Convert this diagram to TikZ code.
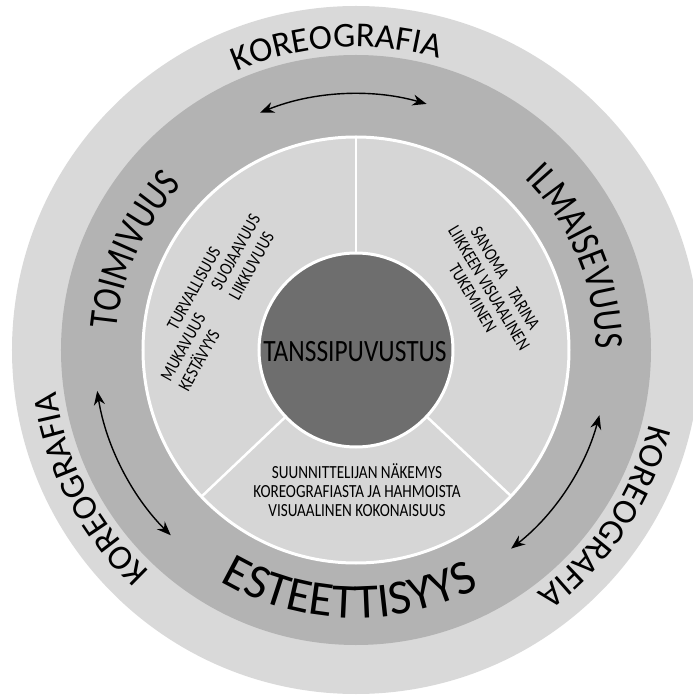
\documentclass[tikz,border=0pt]{standalone}
\usepackage{fontspec}
\setmainfont{Carlito}
\newfontfamily\narrowfont{Carlito}[FakeStretch=0.82]
\usetikzlibrary{decorations.text,arrows.meta}
\definecolor{outerring}{RGB}{217,217,217}
\definecolor{middlering}{RGB}{179,179,179}
\definecolor{innerring}{RGB}{214,214,214}
\definecolor{corecircle}{RGB}{110,110,110}
\newcommand{\korfont}{\fontsize{35}{35}\selectfont}
\newcommand{\ringfont}{\narrowfont\fontsize{41}{41}\selectfont}
\newcommand{\estfont}{\fontsize{49}{49}\selectfont}

\begin{document}
\begin{tikzpicture}[x=1pt, y=1pt,
    divider/.style={white, line width=2.5pt},
    twoway/.style={{Stealth[length=14pt,width=11pt]}-{Stealth[length=14pt,width=11pt]}, line width=1.4pt},
    sectortext/.style={font={\narrowfont\fontsize{18.5}{19}\selectfont}, align=center, inner sep=0pt}]
\useasboundingbox (-356,-346) rectangle (337,350);

\fill[outerring] (0,0) circle[radius=344];
\fill[middlering] (0,0) circle[radius=295];
\filldraw[fill=innerring, draw=white, line width=3pt] (0,0) circle[radius=213];

\draw[divider] (90:97) -- (90:213);
\draw[divider] (223.5:97) -- (223.5:213);
\draw[divider] (316.7:97) -- (316.7:213);

\filldraw[fill=corecircle, draw=white, line width=3pt] (0,0) circle[radius=97];
\node[font={\narrowfont\fontsize{31}{31}\selectfont}, inner sep=0pt] (core) at (-1,-2) {TANSSIPUVUSTUS};

\node[sectortext, rotate=61] (toimi) at (-143,51) {\begin{tabular}{@{}l@{\hspace{30pt}}l@{}}
    \multicolumn{2}{@{}c@{}}{TURVALLISUUS}\\
    MUKAVUUS & SUOJAAVUUS\\
    KESTÄVYYS & LIIKKUVUUS
  \end{tabular}};
\node[sectortext, rotate=-59] (ilmai) at (133,62) {SANOMA\hspace{14pt}TARINA\\LIIKKEEN VISUAALINEN\\TUKEMINEN};
\node[sectortext] (estee) at (1,-140) {SUUNNITTELIJAN NÄKEMYS\\KOREOGRAFIASTA JA HAHMOISTA\\VISUAALINEN KOKONAISUUS};

\path[decorate, decoration={text along path, text align=center, text={|\ringfont|TOIMIVUUS}}]
  (185.8:240) arc[start angle=185.8, end angle=125.8, radius=240];
\path[decorate, decoration={text along path, text align=center, text={|\ringfont|ILMAISEVUUS}}]
  (57.9:240) arc[start angle=57.9, end angle=-12.1, radius=240];
\path[decorate, decoration={text along path, text align=center, text={|\estfont|ESTEETTISYYS}}]
  (233.5:268) arc[start angle=233.5, end angle=303.5, radius=268];

\path[decorate, decoration={text along path, text align=center, text={|\korfont|KOREOGRAFIA}}]
  (123.7:303) arc[start angle=123.7, end angle=63.7, radius=303];
\path[decorate, decoration={text along path, text align=center, text={|\korfont|KOREOGRAFIA}}]
  (237.5:303) arc[start angle=237.5, end angle=177.5, radius=303];
\path[decorate, decoration={text along path, text align=center, text={|\korfont|KOREOGRAFIA}}]
  (-3.8:303) arc[start angle=-3.8, end angle=-63.8, radius=303];

\draw[twoway] (112:256) arc[start angle=112, end angle=74, radius=256];
\draw[twoway] (189:262) arc[start angle=189, end angle=225, radius=262];
\draw[twoway] (-15:252) arc[start angle=-15, end angle=-52, radius=252];
\end{tikzpicture}
\end{document}
